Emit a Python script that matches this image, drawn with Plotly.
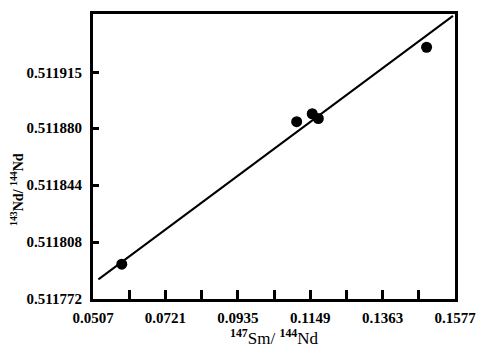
import plotly.graph_objects as go

# Sm-Nd isochron data
sm_nd = [0.0592, 0.1109, 0.1155, 0.1173, 0.1493]          # 147Sm/144Nd
nd_nd = [0.511794, 0.511884, 0.511889, 0.511886, 0.511931]  # 143Nd/144Nd

# isochron fit line end points
fit_x = [0.0523, 0.1571]
fit_y = [0.5117844, 0.5119508]

x_tickvals = [0.0507, 0.0614, 0.0721, 0.0828, 0.0935, 0.1042,
              0.1149, 0.1256, 0.1363, 0.1470, 0.1577]
x_ticktext = ["0.0507", "", "0.0721", "", "0.0935", "",
              "0.1149", "", "0.1363", "", "0.1577"]
y_tickvals = [0.511772, 0.511808, 0.511844, 0.511880, 0.511915]
y_ticktext = ["0.511772", "0.511808", "0.511844", "0.511880", "0.511915"]

font_family = "Liberation Serif"

fig = go.Figure()
fig.add_trace(go.Scatter(
    x=fit_x, y=fit_y, mode="lines",
    line=dict(color="black", width=2), hoverinfo="skip"))
fig.add_trace(go.Scatter(
    x=sm_nd, y=nd_nd, mode="markers",
    marker=dict(color="black", size=11)))

fig.update_layout(
    width=481, height=349,
    margin=dict(l=93, r=26, t=14, b=50, autoexpand=False),
    paper_bgcolor="white", plot_bgcolor="white",
    showlegend=False,
    font=dict(family=font_family, color="black", size=14),
    xaxis=dict(
        range=[0.0507, 0.1577], automargin=False,
        tickmode="array", tickvals=x_tickvals, ticktext=x_ticktext,
        ticks="inside", ticklen=9, tickwidth=3, tickcolor="black",
        showline=True, linecolor="black", linewidth=3, mirror=True,
        showgrid=False, zeroline=False, ticklabelstandoff=3,
        tickfont=dict(family=font_family, size=15, weight="bold"),
        title=dict(text="<sup><b>147</b></sup>Sm/ <sup><b>144</b></sup>Nd",
                   font=dict(family=font_family, size=17), standoff=4),
    ),
    yaxis=dict(
        range=[0.511772, 0.511952], automargin=False,
        tickmode="array", tickvals=y_tickvals, ticktext=y_ticktext,
        ticks="inside", ticklen=6, tickwidth=3, tickcolor="black",
        showline=True, linecolor="black", linewidth=3, mirror=True,
        showgrid=False, zeroline=False, ticklabelstandoff=5,
        tickfont=dict(family=font_family, size=15, weight="bold"),
    ),
    annotations=[dict(
        text="<sup>143</sup>Nd/ <sup>144</sup>Nd",
        xref="paper", yref="paper", x=-0.21, y=0.386,
        xanchor="center", yanchor="middle", textangle=-90,
        showarrow=False,
        font=dict(family=font_family, size=14, weight="bold"),
    )],
)

fig.write_html("out.html")
